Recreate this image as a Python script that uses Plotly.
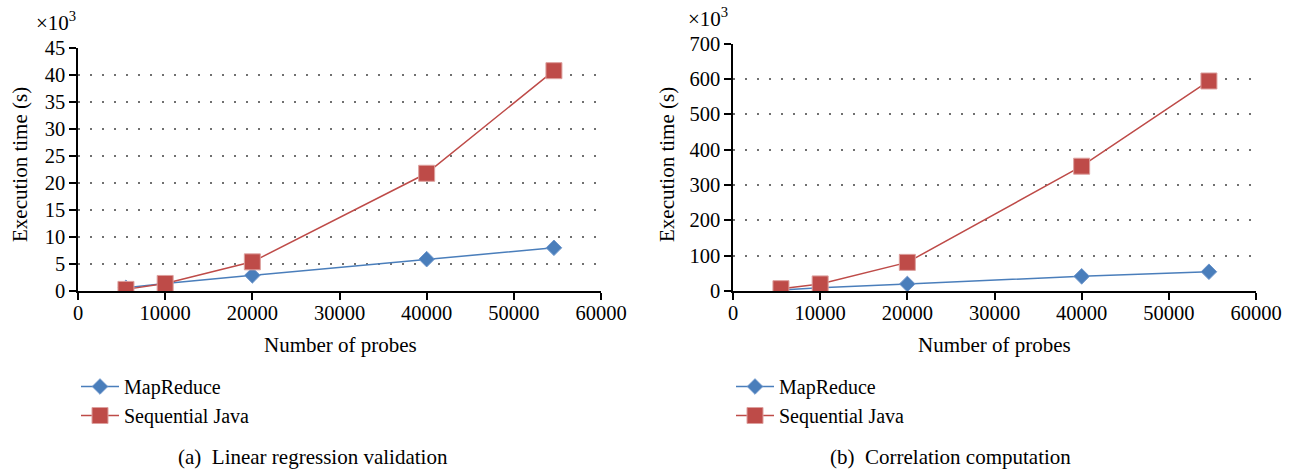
import plotly.graph_objects as go

W, H = 1292, 469

probes = [5500, 10000, 20000, 40000, 54600]
# left panel (a): execution time, x10^3 s
lin_mapreduce = [0.6, 1.4, 2.9, 5.9, 8.0]
lin_sequential = [0.3, 1.4, 5.4, 21.8, 40.8]
# right panel (b): execution time, x10^3 s
cor_mapreduce = [3, 9, 20, 41.5, 54.5]
cor_sequential = [6.6, 20, 81, 353, 594]

series_names = ["MapReduce", "Sequential Java"]
x_title = "Number of probes"
y_title = "Execution time (s)"
captions = ["(a)  Linear regression validation", "(b)  Correlation computation"]
x_ticks = [0, 10000, 20000, 30000, 40000, 50000, 60000]
y_ticks_a = [0, 5, 10, 15, 20, 25, 30, 35, 40, 45]
y_ticks_b = [0, 100, 200, 300, 400, 500, 600, 700]

BLUE = "#4A7EBB"
RED = "#BE4B48"
FONT = "Liberation Serif"
FS = 21
TFS = 20.5

fig = go.Figure()

def add_pair(xax, yax, mr, sj, legend):
    fig.add_trace(go.Scatter(
        x=probes, y=mr, name=series_names[0], mode="lines+markers",
        xaxis=xax, yaxis=yax, legend=legend,
        line=dict(color=BLUE, width=1.5),
        marker=dict(symbol="diamond", size=12, color=BLUE, line=dict(color="#6F97CC", width=1)),
    ))
    fig.add_trace(go.Scatter(
        x=probes, y=sj, name=series_names[1], mode="lines+markers",
        xaxis=xax, yaxis=yax, legend=legend,
        line=dict(color=RED, width=1.5),
        marker=dict(symbol="square", size=16, color=RED, line=dict(color="#DDA09E", width=1)),
    ))

add_pair("x", "y", lin_mapreduce, lin_sequential, "legend")
add_pair("x2", "y2", cor_mapreduce, cor_sequential, "legend2")

def px_x(p):
    return p / W

def px_y(p):
    return 1 - p / H

axis_common = dict(
    showline=True, linecolor="black", linewidth=1.5,
    ticks="outside", ticklen=7, tickcolor="black", tickwidth=1.5,
    tickfont=dict(family=FONT, size=TFS, color="black"),
    zeroline=False, automargin=False,
)

xcommon = dict(axis_common, range=[0, 60000], tickvals=x_ticks,
               ticktext=[str(v) for v in x_ticks], showgrid=False,
               ticklabelstandoff=-4)

ycommon = dict(axis_common, showgrid=True, gridcolor="#707070", gridwidth=2,
               griddash="2px,10px")

legend_common = dict(xanchor="left", yanchor="middle",
                     font=dict(family=FONT, size=20, color="black"),
                     bgcolor="rgba(0,0,0,0)", tracegroupgap=0, itemwidth=38)

fig.update_layout(
    width=W, height=H,
    margin=dict(l=0, r=0, t=0, b=0, pad=0, autoexpand=False),
    paper_bgcolor="white", plot_bgcolor="white",
    font=dict(family=FONT, size=FS, color="black"),
    xaxis=dict(xcommon, domain=[px_x(78), px_x(601)], anchor="y"),
    yaxis=dict(ycommon, domain=[px_y(291), px_y(48)], range=[0, 45], tickvals=y_ticks_a, anchor="x"),
    xaxis2=dict(xcommon, domain=[px_x(733), px_x(1256)], anchor="y2"),
    yaxis2=dict(ycommon, domain=[px_y(291), px_y(43.5)], range=[0, 700], tickvals=y_ticks_b, anchor="x2"),
    legend=dict(legend_common, x=px_x(76), y=px_y(401)),
    legend2=dict(legend_common, x=px_x(731), y=px_y(401)),
    showlegend=True,
)

annos = [
    dict(text="×10<sup>3</sup>", x=px_x(34), y=px_y(22), xanchor="left", yanchor="middle"),
    dict(text="×10<sup>3</sup>", x=px_x(686), y=px_y(17), xanchor="left", yanchor="middle"),
    dict(text=x_title, x=px_x(340), y=px_y(345), xanchor="center", yanchor="middle"),
    dict(text=x_title, x=px_x(994), y=px_y(345), xanchor="center", yanchor="middle"),
    dict(text=y_title, x=px_x(20), y=px_y(165), xanchor="center", yanchor="middle", textangle=-90),
    dict(text=y_title, x=px_x(667), y=px_y(165), xanchor="center", yanchor="middle", textangle=-90),
    dict(text=captions[0], x=px_x(313), y=px_y(457), xanchor="center", yanchor="middle"),
    dict(text=captions[1], x=px_x(950), y=px_y(457), xanchor="center", yanchor="middle"),
]
for a in annos:
    fig.add_annotation(xref="paper", yref="paper", showarrow=False,
                       font=dict(family=FONT, size=FS, color="black"), **a)

fig.write_html(
    "out.html",
    config={"displayModeBar": False},
    post_script="document.body.style.margin='0';document.body.style.padding='0';"
                "document.body.style.overflow='hidden';",
)
